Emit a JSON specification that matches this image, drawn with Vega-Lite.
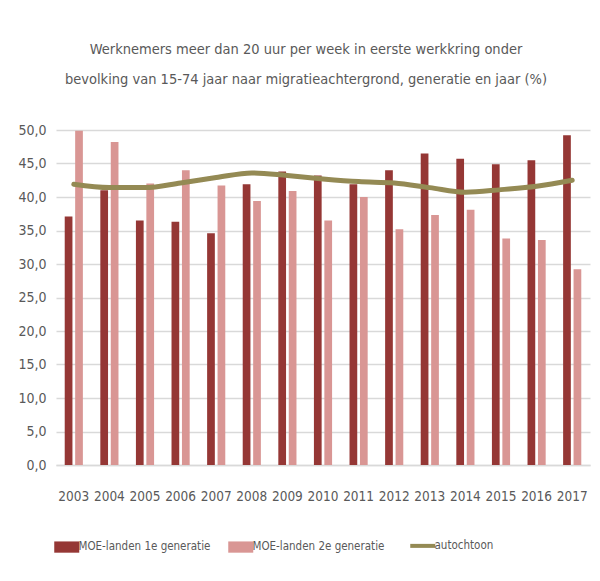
{
  "$schema": "https://vega.github.io/schema/vega-lite/v6.json",
  "width": 534,
  "height": 335,
  "autosize": {"type": "none"},
  "padding": {"left": 56, "top": 130, "right": 10, "bottom": 116},
  "background": "white",
  "title": {
    "text": ["Werknemers meer dan 20 uur per week in eerste werkkring onder", "bevolking van 15-74 jaar naar migratieachtergrond, generatie en jaar (%)"],
    "font": "DejaVu Sans Condensed, sans-serif",
    "fontSize": 14.5,
    "fontWeight": "normal",
    "color": "#595959",
    "lineHeight": 30,
    "anchor": "middle",
    "dx": -17,
    "offset": 36
  },
  "data": {
    "values": [
      {"year": "2003", "series": "MOE-landen 1e generatie", "value": 37.1},
      {"year": "2003", "series": "MOE-landen 2e generatie", "value": 49.9},
      {"year": "2003", "series": "autochtoon", "value": 41.9},
      {"year": "2004", "series": "MOE-landen 1e generatie", "value": 41.0},
      {"year": "2004", "series": "MOE-landen 2e generatie", "value": 48.2},
      {"year": "2004", "series": "autochtoon", "value": 41.4},
      {"year": "2005", "series": "MOE-landen 1e generatie", "value": 36.5},
      {"year": "2005", "series": "MOE-landen 2e generatie", "value": 42.0},
      {"year": "2005", "series": "autochtoon", "value": 41.4},
      {"year": "2006", "series": "MOE-landen 1e generatie", "value": 36.3},
      {"year": "2006", "series": "MOE-landen 2e generatie", "value": 44.0},
      {"year": "2006", "series": "autochtoon", "value": 42.1},
      {"year": "2007", "series": "MOE-landen 1e generatie", "value": 34.6},
      {"year": "2007", "series": "MOE-landen 2e generatie", "value": 41.7},
      {"year": "2007", "series": "autochtoon", "value": 42.9},
      {"year": "2008", "series": "MOE-landen 1e generatie", "value": 41.9},
      {"year": "2008", "series": "MOE-landen 2e generatie", "value": 39.4},
      {"year": "2008", "series": "autochtoon", "value": 43.6},
      {"year": "2009", "series": "MOE-landen 1e generatie", "value": 43.8},
      {"year": "2009", "series": "MOE-landen 2e generatie", "value": 40.9},
      {"year": "2009", "series": "autochtoon", "value": 43.2},
      {"year": "2010", "series": "MOE-landen 1e generatie", "value": 43.2},
      {"year": "2010", "series": "MOE-landen 2e generatie", "value": 36.5},
      {"year": "2010", "series": "autochtoon", "value": 42.7},
      {"year": "2011", "series": "MOE-landen 1e generatie", "value": 41.9},
      {"year": "2011", "series": "MOE-landen 2e generatie", "value": 40.0},
      {"year": "2011", "series": "autochtoon", "value": 42.3},
      {"year": "2012", "series": "MOE-landen 1e generatie", "value": 44.0},
      {"year": "2012", "series": "MOE-landen 2e generatie", "value": 35.2},
      {"year": "2012", "series": "autochtoon", "value": 42.1},
      {"year": "2013", "series": "MOE-landen 1e generatie", "value": 46.5},
      {"year": "2013", "series": "MOE-landen 2e generatie", "value": 37.3},
      {"year": "2013", "series": "autochtoon", "value": 41.4},
      {"year": "2014", "series": "MOE-landen 1e generatie", "value": 45.7},
      {"year": "2014", "series": "MOE-landen 2e generatie", "value": 38.1},
      {"year": "2014", "series": "autochtoon", "value": 40.7},
      {"year": "2015", "series": "MOE-landen 1e generatie", "value": 44.9},
      {"year": "2015", "series": "MOE-landen 2e generatie", "value": 33.8},
      {"year": "2015", "series": "autochtoon", "value": 41.1},
      {"year": "2016", "series": "MOE-landen 1e generatie", "value": 45.5},
      {"year": "2016", "series": "MOE-landen 2e generatie", "value": 33.6},
      {"year": "2016", "series": "autochtoon", "value": 41.6},
      {"year": "2017", "series": "MOE-landen 1e generatie", "value": 49.2},
      {"year": "2017", "series": "MOE-landen 2e generatie", "value": 29.2},
      {"year": "2017", "series": "autochtoon", "value": 42.5}
    ]
  },
  "encoding": {
    "x": {
      "field": "year",
      "type": "nominal",
      "scale": {"paddingInner": 0.49, "paddingOuter": 0.245},
      "axis": {
        "title": null,
        "labelAngle": 0,
        "labelFont": "DejaVu Sans Condensed, sans-serif",
        "labelFontSize": 13.5,
        "labelColor": "#595959",
        "labelPadding": 24,
        "ticks": false,
        "domainColor": "#D9D9D9",
        "domainWidth": 1.5
      }
    },
    "y": {
      "field": "value",
      "type": "quantitative",
      "scale": {"domain": [0, 50]},
      "axis": {
        "title": null,
        "values": [0, 5, 10, 15, 20, 25, 30, 35, 40, 45, 50],
        "labelExpr": "replace(format(datum.value, '.1f'), '.', ',')",
        "labelFont": "DejaVu Sans Condensed, sans-serif",
        "labelFontSize": 14,
        "labelColor": "#595959",
        "labelPadding": 10,
        "ticks": false,
        "domain": false,
        "gridColor": "#D9D9D9",
        "gridWidth": 1.5
      }
    },
    "color": {
      "field": "series",
      "type": "nominal",
      "scale": {
        "domain": ["MOE-landen 1e generatie", "MOE-landen 2e generatie", "autochtoon"],
        "range": ["#953735", "#D99694", "#948A54"]
      },
      "legend": {
        "title": null,
        "orient": "none",
        "legendX": 5,
        "legendY": 410,
        "direction": "horizontal",
        "labelFont": "DejaVu Sans Condensed, sans-serif",
        "labelFontSize": 11.5,
        "labelColor": "#595959",
        "labelOffset": 6,
        "columnPadding": 17,
        "symbolSize": 625,
        "encode": {
          "symbols": {
            "update": {
              "shape": {"signal": "datum.value === 'autochtoon' ? 'stroke' : 'M-1,-0.45H1V0.45H-1Z'"},
              "fill": {"signal": "datum.value === 'autochtoon' ? 'transparent' : scale('color', datum.value)"},
              "stroke": {"signal": "datum.value === 'autochtoon' ? scale('color', datum.value) : 'transparent'"},
              "strokeWidth": {"signal": "datum.value === 'autochtoon' ? 4 : 0"},
              "opacity": {"value": 1},
              "fillOpacity": {"value": 1}
            }
          }
        }
      }
    }
  },
  "layer": [
    {
      "transform": [{"filter": "datum.series !== 'autochtoon'"}],
      "mark": {"type": "bar", "opacity": 1},
      "encoding": {
        "xOffset": {
          "field": "series",
          "type": "nominal",
          "scale": {"domain": ["MOE-landen 1e generatie", "MOE-landen 2e generatie"], "paddingInner": 0.26, "paddingOuter": 0}
        }
      }
    },
    {
      "transform": [{"filter": "datum.series === 'autochtoon'"}],
      "mark": {"type": "line", "strokeWidth": 5, "interpolate": "monotone", "strokeCap": "round"},
      "encoding": {}
    }
  ],
  "config": {
    "view": {"stroke": null}
  }
}
